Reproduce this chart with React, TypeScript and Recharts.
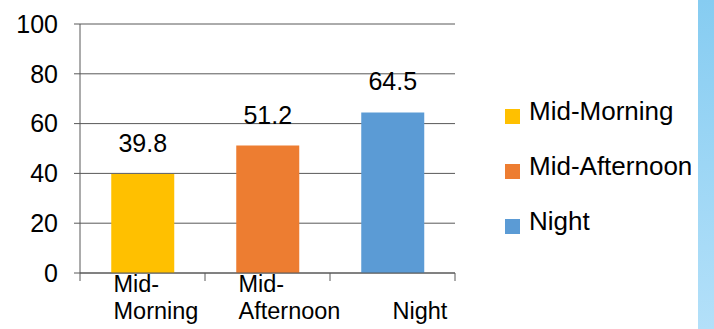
import { BarChart, Bar, XAxis, YAxis, CartesianGrid, Cell, LabelList, Legend } from 'recharts';

// Values
const categories = ['Mid-Morning', 'Mid-Afternoon', 'Night'];
const values = [39.8, 51.2, 64.5];
const colors = ['#FFC000', '#ED7D31', '#5B9BD5'];
const yTicks = [0, 20, 40, 60, 80, 100];

const FONT = '"Liberation Sans", Arial, sans-serif';
const LINE = '#595959';

const data = categories.map((name, i) => ({ name, value: values[i] }));

// Category labels wrap after the hyphen, bottom-aligned like the original.
// Tick marks sit on the category boundaries, not the centres.
const CategoryTick = (props: any) => {
  const { x, y, payload, index, visibleTicksCount } = props;
  const half = payload.offset || 62.5;
  const label: string = payload.value;
  const hyphen = label.includes('-');
  const first = hyphen ? label.split('-')[0] + '-' : '';
  const second = hyphen ? label.split('-')[1] : label;
  const left = hyphen ? x - 29 : x;
  return (
    <g>
      <line x1={x - half} x2={x - half} y1={y} y2={y + 8} stroke={LINE} />
      {index === visibleTicksCount - 1 && (
        <line x1={x + half} x2={x + half} y1={y} y2={y + 8} stroke={LINE} />
      )}
      <text fontSize={23.5} fontFamily={FONT} fill="#000" textAnchor="start">
        {first && (
          <tspan x={left} y={y + 19}>
            {first}
          </tspan>
        )}
        <tspan x={left} y={y + 46}>
          {second}
        </tspan>
      </text>
    </g>
  );
};

const SideLegend = () => (
  <div style={{ fontFamily: FONT, fontSize: 26, color: '#000' }}>
    {categories.map((c, i) => (
      <div key={c} style={{ display: 'flex', alignItems: 'center', height: 55, lineHeight: '55px' }}>
        <span style={{ width: 15, height: 15, background: colors[i], marginTop: 10, marginRight: 9, display: 'inline-block' }} />
        <span>{c}</span>
      </div>
    ))}
  </div>
);

export default function App() {
  return (
    <div style={{ position: 'fixed', left: 0, top: 0, width: 714, height: 329, background: '#fff' }}>
      <BarChart
        width={714}
        height={329}
        data={data}
        margin={{ top: 24, right: 259, left: 0, bottom: 0 }}
        barCategoryGap="25%"
      >
        <CartesianGrid vertical={false} stroke={LINE} strokeWidth={1} />
        <XAxis
          dataKey="name"
          height={56}
          axisLine={{ stroke: LINE }}
          tickLine={false}
          tickSize={0}
          tickMargin={0}
          interval={0}
          tick={<CategoryTick />}
        />
        <YAxis
          width={80}
          domain={[0, 100]}
          ticks={yTicks}
          axisLine={{ stroke: LINE }}
          tickLine={{ stroke: LINE }}
          tickSize={6}
          tickMargin={16}
          tick={{ fontSize: 25, fill: '#000', fontFamily: FONT }}
        />
        <Legend
          layout="horizontal"
          verticalAlign="middle"
          content={<SideLegend />}
          wrapperStyle={{ left: 505, top: 84, width: 200, height: 170 }}
        />
        <Bar dataKey="value" isAnimationActive={false}>
          {data.map((d, i) => (
            <Cell key={d.name} fill={colors[i]} />
          ))}
          <LabelList dataKey="value" position="top" offset={22} fontSize={25} fill="#000" fontFamily={FONT} />
        </Bar>
      </BarChart>
      <div
        style={{
          position: 'absolute',
          left: 698,
          top: 0,
          width: 16,
          height: 329,
          background: 'linear-gradient(#86CCF1, #B3E0F9)',
        }}
      />
    </div>
  );
}
